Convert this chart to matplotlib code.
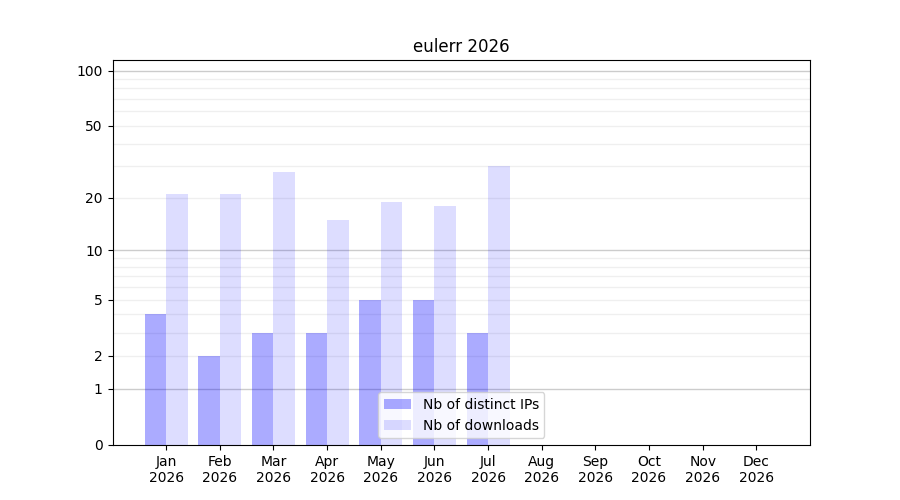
import matplotlib
matplotlib.use("Agg")
import matplotlib.pyplot as plt
import numpy as np

months = ["Jan", "Feb", "Mar", "Apr", "May", "Jun", "Jul", "Aug", "Sep", "Oct", "Nov", "Dec"]
year = "2026"
ips = [4, 2, 3, 3, 5, 5, 3]
downloads = [21, 21, 28, 15, 19, 18, 30]

fig, ax = plt.subplots(figsize=(9, 5), dpi=100)

# log(1+x) so that zero is still on the axis
ax.set_yscale("function", functions=(lambda v: np.log10(1 + np.clip(v, 0, None)),
                                     lambda t: 10 ** t - 1))

x = np.arange(1, len(ips) + 1)
ax.bar(x - 0.2, ips, width=0.4, color="blue", alpha=0.33, label="Nb of distinct IPs")
ax.bar(x + 0.2, downloads, width=0.4, color="blue", alpha=0.135, label="Nb of downloads")

for v in [1, 10, 100]:
    ax.axhline(v, color="gray", alpha=0.4, lw=1, zorder=0)
for v in list(range(2, 10)) + list(range(20, 100, 10)):
    ax.axhline(v, color="gray", alpha=0.12, lw=1, zorder=0)

ax.set_ylim(0, 114)
ax.set_yticks([0, 1, 2, 5, 10, 20, 50, 100])
ax.set_yticklabels(["0", "1", "2", "5", "10", "20", "50", "100"])
ax.minorticks_off()

ax.set_xlim(0, 13)
ax.set_xticks(np.arange(1, 13))
ax.set_xticklabels([m + "\n" + year for m in months])

ax.set_title("eulerr " + year)
ax.legend(loc="lower center")

plt.savefig("out.png")
